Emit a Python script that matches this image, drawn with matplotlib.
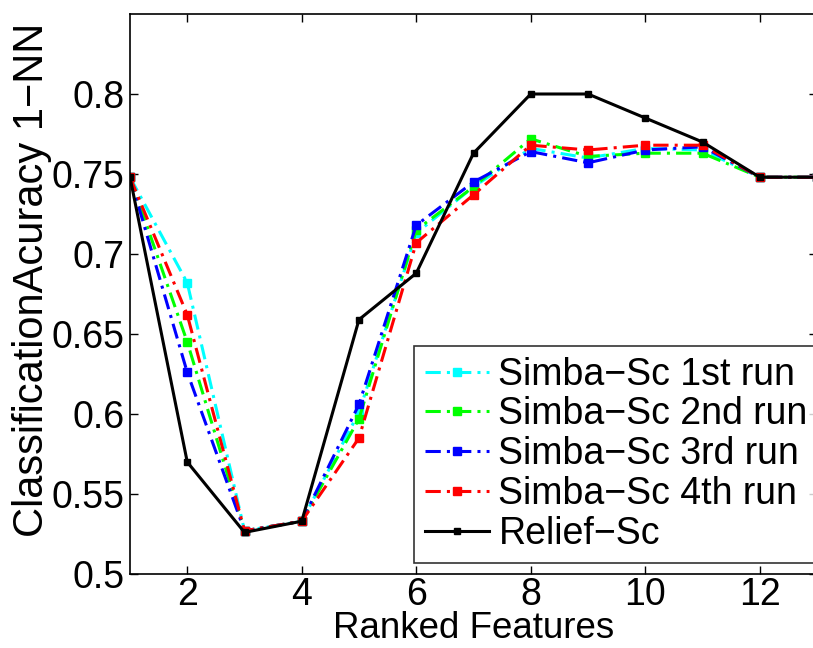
import matplotlib
matplotlib.use("Agg")
import matplotlib.pyplot as plt

x = list(range(1, 14))
simba1 = [0.748, 0.682, 0.527, 0.533, 0.601, 0.713, 0.742, 0.766, 0.760, 0.766, 0.765, 0.748, 0.748]
simba2 = [0.748, 0.645, 0.527, 0.533, 0.597, 0.715, 0.742, 0.772, 0.761, 0.763, 0.763, 0.748, 0.748]
simba3 = [0.748, 0.626, 0.527, 0.533, 0.606, 0.718, 0.745, 0.764, 0.757, 0.765, 0.767, 0.748, 0.748]
simba4 = [0.748, 0.662, 0.527, 0.533, 0.585, 0.707, 0.737, 0.768, 0.765, 0.768, 0.768, 0.748, 0.748]
relief = [0.748, 0.570, 0.526, 0.533, 0.659, 0.688, 0.763, 0.800, 0.800, 0.785, 0.770, 0.748, 0.748]
labels = ["Simba\u2212Sc 1st run", "Simba\u2212Sc 2nd run", "Simba\u2212Sc 3rd run",
          "Simba\u2212Sc 4th run", "Relief\u2212Sc"]
colors = ["#00ffff", "#00ff00", "#0000ff", "#ff0000", "#000000"]

plt.rcParams['font.family'] = ['Liberation Sans', 'DejaVu Sans']
fig = plt.figure(figsize=(8.13, 6.48), dpi=100)
ax = fig.add_axes([130/813, 1-574/648, (817-130)/813, (574-14)/648])

for ys, c, lab in zip([simba1, simba2, simba3, simba4], colors[:4], labels[:4]):
    ax.plot(x, ys, linestyle='-.', color=c, lw=2.2, marker='s', markersize=6,
            label=lab, dashes=(5, 2, 1, 2))
ax.plot(x, relief, '-', color='k', lw=2.2, marker='s', markersize=5, label=labels[4])

ax.set_xlim(1, 13)
ax.set_ylim(0.5, 0.85)
ax.set_xticks([2, 4, 6, 8, 10, 12])
ax.set_yticks([0.5, 0.55, 0.6, 0.65, 0.7, 0.75, 0.8])
ax.set_yticklabels(['0.5', '0.55', '0.6', '0.65', '0.7', '0.75', '0.8'])
ax.tick_params(direction='in', top=True, right=True, labelsize=27, length=6, width=1, pad=4)
ax.tick_params(axis='x', pad=2)
for s in ax.spines.values():
    s.set_linewidth(1.2)
ax.set_xlabel("Ranked Features", fontsize=26.5, labelpad=-1)
ax.set_ylabel("ClassificationAcuracy 1\u2212NN", fontsize=30)
ax.yaxis.set_label_coords(-0.113, 0.525)

leg = ax.legend(loc='lower left', bbox_to_anchor=((414-130)/687, (574-563)/560),
                fontsize=27, frameon=True, fancybox=False, edgecolor='k',
                handlelength=1.7, handletextpad=0.25, labelspacing=0.1,
                borderpad=0.3, borderaxespad=0)
leg.get_frame().set_linewidth(1.2)

fig.savefig("out.png", dpi=100)
